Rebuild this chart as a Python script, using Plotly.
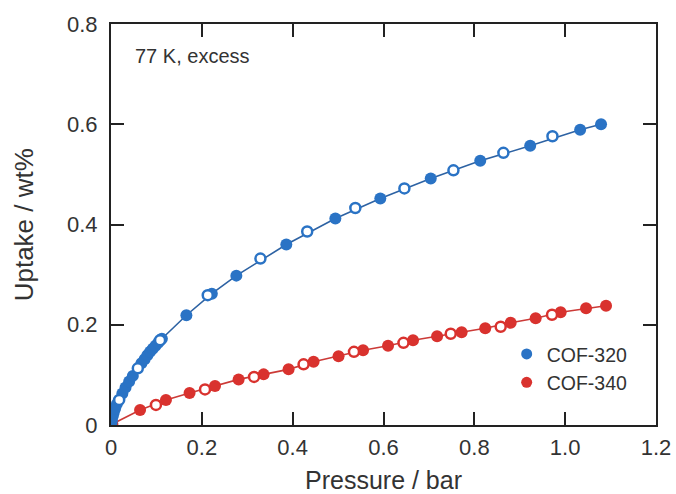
import plotly.graph_objects as go

# COF-320 (blue): adsorption (filled) and desorption (open)
cof320_ads_p = [0.0005, 0.001, 0.002, 0.004, 0.006, 0.009, 0.013, 0.025, 0.032, 0.040, 0.048,
                0.067, 0.074, 0.080, 0.086, 0.092, 0.098, 0.104, 0.112, 0.166, 0.222, 0.276,
                0.386, 0.494, 0.593, 0.704, 0.813, 0.923, 1.033, 1.079]
cof320_ads_u = [0.003, 0.006, 0.010, 0.018, 0.025, 0.033, 0.042, 0.063, 0.075, 0.087, 0.098,
                0.123, 0.131, 0.139, 0.146, 0.152, 0.158, 0.164, 0.172, 0.219, 0.262, 0.298,
                0.360, 0.412, 0.452, 0.492, 0.527, 0.557, 0.589, 0.600]
cof320_des_p = [0.018, 0.059, 0.108, 0.213, 0.329, 0.432, 0.538, 0.646, 0.754, 0.864, 0.972]
cof320_des_u = [0.050, 0.113, 0.169, 0.259, 0.332, 0.386, 0.433, 0.472, 0.508, 0.543, 0.576]

# COF-340 (red)
cof340_ads_p = [0.001, 0.003, 0.064, 0.121, 0.173, 0.229, 0.281, 0.336, 0.391, 0.446, 0.501,
                0.555, 0.610, 0.665, 0.718, 0.772, 0.824, 0.880, 0.935, 0.990, 1.046, 1.090]
cof340_ads_u = [0.001, 0.002, 0.030, 0.050, 0.064, 0.078, 0.091, 0.101, 0.111, 0.126, 0.137,
                0.149, 0.158, 0.169, 0.177, 0.185, 0.193, 0.204, 0.213, 0.225, 0.233, 0.238]
cof340_des_p = [0.099, 0.207, 0.315, 0.424, 0.535, 0.644, 0.748, 0.858, 0.971]
cof340_des_u = [0.040, 0.071, 0.096, 0.121, 0.146, 0.164, 0.182, 0.196, 0.220]

x_ticks = [0, 0.2, 0.4, 0.6, 0.8, 1.0, 1.2]
x_tick_labels = ["0", "0.2", "0.4", "0.6", "0.8", "1.0", "1.2"]
y_ticks = [0, 0.2, 0.4, 0.6, 0.8]
y_tick_labels = ["0", "0.2", "0.4", "0.6", "0.8"]

BLUE = "#2a73c5"
BLUE_LINE = "#2d62a3"
RED = "#d9322e"
RED_LINE = "#cc3a37"
FONT = "Liberation Sans, Arial, sans-serif"
TXT = "#333333"

fig = go.Figure()

def add_series(ads_p, ads_u, des_p, des_u, color, line_color):
    fig.add_trace(go.Scatter(x=[0] + ads_p, y=[0] + ads_u, mode="lines",
                             line=dict(color=line_color, width=1.6), showlegend=False,
                             hoverinfo="skip"))
    fig.add_trace(go.Scatter(x=ads_p, y=ads_u, mode="markers",
                             marker=dict(size=12, color=color, line=dict(width=0)),
                             showlegend=False))
    fig.add_trace(go.Scatter(x=des_p, y=des_u, mode="markers",
                             marker=dict(size=10, color="white", line=dict(width=2.5, color=color)),
                             showlegend=False))

add_series(cof340_ads_p, cof340_ads_u, cof340_des_p, cof340_des_u, RED, RED_LINE)
add_series(cof320_ads_p, cof320_ads_u, cof320_des_p, cof320_des_u, BLUE, BLUE_LINE)

# legend-only entries
fig.add_trace(go.Scatter(x=[None], y=[None], mode="markers", name="COF-320",
                         marker=dict(size=11, color=BLUE)))
fig.add_trace(go.Scatter(x=[None], y=[None], mode="markers", name="COF-340",
                         marker=dict(size=11, color=RED)))

axis_common = dict(showline=True, linecolor="#222222", linewidth=2, mirror="ticks",
                   ticks="inside", ticklen=13, tickwidth=2, tickcolor="#222222",
                   showgrid=False, zeroline=False, automargin=False,
                   tickfont=dict(family=FONT, size=22, color=TXT))

fig.update_xaxes(range=[0, 1.2], tickvals=x_ticks, ticktext=x_tick_labels,
                 ticklabelstandoff=2, ticklabeloverflow="allow",
                 **axis_common)
fig.update_yaxes(range=[0, 0.8], tickvals=y_ticks, ticktext=y_tick_labels,
                 ticklabelstandoff=7,
                 **axis_common)

# axis titles placed precisely as paper-anchored text
fig.add_annotation(x=0.5, y=-0.137, xref="paper", yref="paper", text="Pressure / bar",
                   showarrow=False, xanchor="center", yanchor="middle",
                   font=dict(family=FONT, size=25, color=TXT))
fig.add_annotation(x=-0.16, y=0.5, xref="paper", yref="paper", text="Uptake / wt%",
                   showarrow=False, xanchor="center", yanchor="middle", textangle=-90,
                   font=dict(family=FONT, size=26, color=TXT))

fig.add_annotation(x=0.040, y=0.920, xref="paper", yref="paper", text="77 K, excess",
                   showarrow=False, xanchor="left", yanchor="middle",
                   font=dict(family=FONT, size=20, color=TXT))

fig.update_layout(
    width=676, height=494,
    margin=dict(l=111, r=20, t=24, b=69, pad=0),
    plot_bgcolor="white", paper_bgcolor="white",
    legend=dict(x=0.726, y=0.225, xanchor="left", yanchor="top",
                font=dict(family=FONT, size=19.5, color=TXT),
                bgcolor="rgba(0,0,0,0)", itemwidth=30, tracegroupgap=0),
)

# remove the default 8px page margin so the 676x494 figure fills the window exactly
fig.write_html("out.html",
               config={"displayModeBar": False},
               post_script="document.body.style.margin='0';document.body.style.overflow='hidden';")
